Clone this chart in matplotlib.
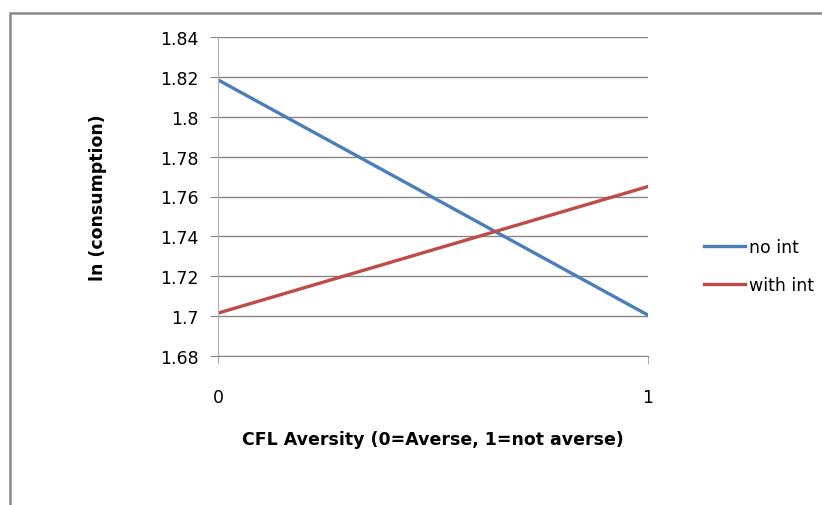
import matplotlib.pyplot as plt
from matplotlib.patches import Rectangle

x_vals = [0, 1]
no_int = [1.8185, 1.7005]
with_int = [1.7015, 1.765]
series_names = ["no int", "with int"]
y_ticks = [1.68, 1.70, 1.72, 1.74, 1.76, 1.78, 1.80, 1.82, 1.84]
y_labels = ["1.68", "1.7", "1.72", "1.74", "1.76", "1.78", "1.8", "1.82", "1.84"]

plt.rcParams["font.family"] = ["DejaVu Sans"]

fig = plt.figure(figsize=(8.22, 5.06), dpi=100)
W, H = 822, 506

# outer chart border (only left and top visible)
fig.add_artist(Rectangle((10 / W, -0.1), 1.2, 1 - 14 / H + 0.1, transform=fig.transFigure,
                         fill=False, edgecolor="#8a8a8a", linewidth=1.8))

ax = fig.add_axes([218 / W, 1 - 357 / H, (648 - 218) / W, (357 - 38) / H])
ax.plot(x_vals, no_int, color="#4A7EBB", linewidth=2.4, label=series_names[0])
ax.plot(x_vals, with_int, color="#BE4B48", linewidth=2.4, label=series_names[1])

ax.set_xlim(0, 1)
ax.set_ylim(1.68, 1.84)
ax.set_yticks(y_ticks)
ax.set_yticklabels(y_labels)
ax.set_xticks([0, 1])
ax.set_xticklabels(["0", "1"])
ax.grid(axis="y", color="#868686", linewidth=1)
ax.set_axisbelow(True)
for s in ["top", "right"]:
    ax.spines[s].set_visible(False)
ax.spines["left"].set_color("#b0b0b0")
ax.spines["bottom"].set_color("#868686")
ax.tick_params(axis="y", length=6, color="#868686", labelsize=12.5, pad=8)
ax.tick_params(axis="x", length=6, color="#b0b0b0", labelsize=12.5, pad=17, direction="out")

ax.set_xlabel("CFL Aversity (0=Averse, 1=not averse)", fontsize=12.5, fontweight="bold", labelpad=17)
ax.set_ylabel("ln (consumption)", fontsize=12.5, fontweight="bold", labelpad=38)

fig.legend(loc="upper left", bbox_to_anchor=(688 / W, 1 - 223 / H), frameon=False,
           fontsize=12.5, handlelength=2.4, handletextpad=0.2, labelspacing=1.2)

fig.savefig("out.png", dpi=100)
